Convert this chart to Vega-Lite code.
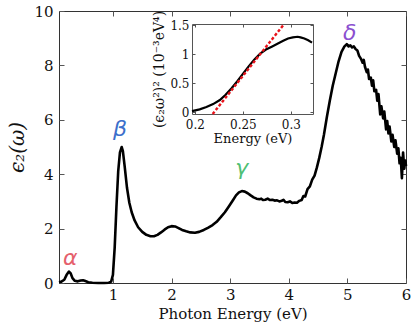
{
  "$schema": "https://vega.github.io/schema/vega-lite/v6.json",
  "width": 347,
  "height": 272,
  "autosize": {"type": "none"},
  "padding": {"left": 59, "top": 11, "right": 9, "bottom": 45},
  "background": "white",
  "config": {
    "view": {"stroke": "#333", "strokeWidth": 1},
    "axis": {
      "grid": false,
      "labelFont": "DejaVu Serif",
      "titleFont": "DejaVu Serif",
      "labelColor": "#111",
      "titleColor": "#111",
      "tickColor": "#555",
      "domainColor": "#555",
      "titleFontWeight": "normal",
      "labelFontWeight": "normal"
    }
  },
  "datasets": {
    "main": [
      {"E": 0.08, "v": 0.03}, {"E": 0.12, "v": 0.05}, {"E": 0.17, "v": 0.12}, {"E": 0.21, "v": 0.3},
      {"E": 0.25, "v": 0.42}, {"E": 0.28, "v": 0.35}, {"E": 0.31, "v": 0.18}, {"E": 0.35, "v": 0.08},
      {"E": 0.4, "v": 0.06}, {"E": 0.45, "v": 0.09}, {"E": 0.49, "v": 0.1}, {"E": 0.53, "v": 0.07},
      {"E": 0.58, "v": 0.03}, {"E": 0.65, "v": 0.01}, {"E": 0.75, "v": 0.0}, {"E": 0.85, "v": 0.0},
      {"E": 0.93, "v": 0.01}, {"E": 0.97, "v": 0.05}, {"E": 1.0, "v": 0.3}, {"E": 1.03, "v": 1.3},
      {"E": 1.06, "v": 2.8}, {"E": 1.09, "v": 4.1}, {"E": 1.12, "v": 4.8}, {"E": 1.15, "v": 5.0},
      {"E": 1.17, "v": 4.85}, {"E": 1.2, "v": 4.3}, {"E": 1.24, "v": 3.5}, {"E": 1.28, "v": 2.95},
      {"E": 1.32, "v": 2.6}, {"E": 1.37, "v": 2.3}, {"E": 1.43, "v": 2.05}, {"E": 1.5, "v": 1.88},
      {"E": 1.57, "v": 1.77}, {"E": 1.64, "v": 1.72}, {"E": 1.7, "v": 1.72}, {"E": 1.76, "v": 1.77},
      {"E": 1.82, "v": 1.86}, {"E": 1.88, "v": 1.96}, {"E": 1.94, "v": 2.05}, {"E": 2.0, "v": 2.09},
      {"E": 2.06, "v": 2.08}, {"E": 2.12, "v": 2.02}, {"E": 2.18, "v": 1.95}, {"E": 2.25, "v": 1.9},
      {"E": 2.32, "v": 1.86}, {"E": 2.4, "v": 1.85}, {"E": 2.47, "v": 1.88}, {"E": 2.55, "v": 1.95},
      {"E": 2.62, "v": 2.03}, {"E": 2.7, "v": 2.13}, {"E": 2.77, "v": 2.25}, {"E": 2.84, "v": 2.42},
      {"E": 2.91, "v": 2.6}, {"E": 2.98, "v": 2.82}, {"E": 3.05, "v": 3.05}, {"E": 3.1, "v": 3.22},
      {"E": 3.15, "v": 3.33}, {"E": 3.2, "v": 3.38}, {"E": 3.25, "v": 3.36}, {"E": 3.3, "v": 3.3},
      {"E": 3.35, "v": 3.22}, {"E": 3.4, "v": 3.15}, {"E": 3.45, "v": 3.1}, {"E": 3.5, "v": 3.08},
      {"E": 3.53, "v": 3.1}, {"E": 3.56, "v": 3.05}, {"E": 3.6, "v": 3.06}, {"E": 3.64, "v": 3.1},
      {"E": 3.68, "v": 3.05}, {"E": 3.72, "v": 3.06}, {"E": 3.76, "v": 3.03}, {"E": 3.8, "v": 3.04},
      {"E": 3.84, "v": 3.0}, {"E": 3.88, "v": 3.02}, {"E": 3.91, "v": 3.06}, {"E": 3.94, "v": 2.98},
      {"E": 3.98, "v": 2.97}, {"E": 4.02, "v": 3.0}, {"E": 4.06, "v": 2.94}, {"E": 4.1, "v": 2.96},
      {"E": 4.14, "v": 2.95}, {"E": 4.18, "v": 3.02}, {"E": 4.22, "v": 3.05}, {"E": 4.25, "v": 3.2},
      {"E": 4.28, "v": 3.18}, {"E": 4.32, "v": 3.45}, {"E": 4.36, "v": 3.55}, {"E": 4.4, "v": 3.8},
      {"E": 4.44, "v": 3.95}, {"E": 4.48, "v": 4.25}, {"E": 4.52, "v": 4.6}, {"E": 4.56, "v": 5.0},
      {"E": 4.6, "v": 5.45}, {"E": 4.65, "v": 6.1}, {"E": 4.7, "v": 6.7}, {"E": 4.75, "v": 7.25},
      {"E": 4.8, "v": 7.7}, {"E": 4.85, "v": 8.15}, {"E": 4.9, "v": 8.5}, {"E": 4.95, "v": 8.7},
      {"E": 4.99, "v": 8.78}, {"E": 5.02, "v": 8.7}, {"E": 5.05, "v": 8.74}, {"E": 5.08, "v": 8.66},
      {"E": 5.11, "v": 8.7}, {"E": 5.14, "v": 8.6}, {"E": 5.17, "v": 8.55}, {"E": 5.2, "v": 8.35},
      {"E": 5.23, "v": 8.25}, {"E": 5.26, "v": 8.1}, {"E": 5.28, "v": 8.2}, {"E": 5.3, "v": 7.95},
      {"E": 5.33, "v": 7.75}, {"E": 5.35, "v": 7.85}, {"E": 5.37, "v": 7.5}, {"E": 5.4, "v": 7.55},
      {"E": 5.42, "v": 7.25}, {"E": 5.44, "v": 7.45}, {"E": 5.46, "v": 7.05}, {"E": 5.49, "v": 7.1},
      {"E": 5.51, "v": 6.7}, {"E": 5.53, "v": 6.95}, {"E": 5.56, "v": 6.2}, {"E": 5.58, "v": 6.5},
      {"E": 5.61, "v": 6.05}, {"E": 5.63, "v": 6.3}, {"E": 5.66, "v": 5.65}, {"E": 5.68, "v": 5.95},
      {"E": 5.7, "v": 5.5}, {"E": 5.72, "v": 5.75}, {"E": 5.75, "v": 5.2}, {"E": 5.77, "v": 5.45},
      {"E": 5.8, "v": 5.0}, {"E": 5.82, "v": 5.25}, {"E": 5.85, "v": 4.75}, {"E": 5.87, "v": 4.95},
      {"E": 5.89, "v": 4.4}, {"E": 5.91, "v": 4.6}, {"E": 5.93, "v": 3.85}, {"E": 5.95, "v": 4.8},
      {"E": 5.97, "v": 4.2}, {"E": 5.99, "v": 4.5}, {"E": 6.0, "v": 4.3}
    ],
    "labels": [
      {"E": 0.27, "v": 0.66, "label": "α"},
      {"E": 1.12, "v": 5.4, "label": "β"},
      {"E": 3.2, "v": 3.97, "label": "γ"},
      {"E": 5.04, "v": 8.93, "label": "δ"}
    ],
    "inset": [
      {"E": 0.197, "v": 0.02}, {"E": 0.205, "v": 0.05}, {"E": 0.212, "v": 0.09}, {"E": 0.219, "v": 0.14},
      {"E": 0.226, "v": 0.21}, {"E": 0.232, "v": 0.3}, {"E": 0.238, "v": 0.41}, {"E": 0.244, "v": 0.53},
      {"E": 0.25, "v": 0.66}, {"E": 0.256, "v": 0.79}, {"E": 0.262, "v": 0.91}, {"E": 0.268, "v": 1.01},
      {"E": 0.274, "v": 1.08}, {"E": 0.28, "v": 1.13}, {"E": 0.286, "v": 1.18}, {"E": 0.292, "v": 1.23},
      {"E": 0.297, "v": 1.27}, {"E": 0.302, "v": 1.29}, {"E": 0.307, "v": 1.3}, {"E": 0.31, "v": 1.29},
      {"E": 0.314, "v": 1.27}, {"E": 0.318, "v": 1.24}, {"E": 0.322, "v": 1.2}
    ],
    "fit": [
      {"E": 0.2185, "v": -0.03},
      {"E": 0.293, "v": 1.52}
    ]
  },
  "layer": [
    {
      "layer": [
        {
          "data": {"name": "main"},
          "mark": {"type": "line", "color": "black", "strokeWidth": 2.6, "strokeJoin": "round"},
          "encoding": {
            "x": {
              "field": "E", "type": "quantitative",
              "scale": {"domain": [0.08, 6], "nice": false, "zero": false},
              "axis": {
                "orient": "bottom", "values": [1, 2, 3, 4, 5, 6], "format": "~r",
                "domain": false, "tickSize": -5, "labelPadding": 9, "labelFontSize": 15,
                "labelFlush": false,
                "title": "Photon Energy (eV)", "titleFontSize": 15, "titlePadding": 4
              }
            },
            "y": {
              "field": "v", "type": "quantitative",
              "scale": {"domain": [0, 10], "nice": false},
              "axis": {
                "orient": "left", "values": [0, 2, 4, 6, 8, 10], "format": "~r",
                "domain": false, "tickSize": -5, "labelPadding": 11, "labelFontSize": 15,
                "labelFlush": false,
                "title": "ϵ₂(ω)", "titleFontSize": 20, "titleFontStyle": "italic", "titlePadding": 6
              }
            }
          }
        },
        {
          "data": {"name": "labels"},
          "mark": {"type": "text", "font": "DejaVu Sans", "fontStyle": "italic", "fontSize": 22, "baseline": "alphabetic", "align": "center"},
          "encoding": {
            "x": {
              "field": "E", "type": "quantitative",
              "axis": {"orient": "top", "values": [1, 2, 3, 4, 5, 6], "labels": false, "domain": false, "tickSize": -5, "title": null}
            },
            "y": {
              "field": "v", "type": "quantitative",
              "axis": {"orient": "right", "values": [2, 4, 6, 8], "labels": false, "domain": false, "tickSize": -5, "title": null}
            },
            "text": {"field": "label"},
            "color": {
              "field": "label", "type": "nominal",
              "scale": {"domain": ["α", "β", "γ", "δ"], "range": ["#e5606c", "#3c6fcb", "#4fbf74", "#8b4fd0"]},
              "legend": null
            }
          }
        }
      ],
      "resolve": {"axis": {"x": "independent", "y": "independent"}}
    },
    {
      "layer": [
        {
          "data": {"name": "inset"},
          "mark": {"type": "line", "color": "black", "strokeWidth": 2.2},
          "encoding": {
            "x": {
              "field": "E", "type": "quantitative",
              "scale": {"domain": [0.197, 0.323], "nice": false, "zero": false, "range": [133, 254]},
              "axis": {
                "orient": "bottom", "offset": -169, "values": [0.2, 0.25, 0.3], "format": "~r",
                "tickSize": -3, "labelPadding": 8, "labelFontSize": 12, "labelFlush": false,
                "title": "Energy (eV)", "titleFontSize": 13, "titlePadding": 2
              }
            },
            "y": {
              "field": "v", "type": "quantitative",
              "scale": {"domain": [-0.03, 1.52], "nice": false, "zero": false, "range": [103, 13]},
              "axis": {
                "orient": "left", "offset": -133, "values": [0, 0.5, 1, 1.5], "format": "~r",
                "tickSize": -3, "labelPadding": 6, "labelFontSize": 12, "labelFlush": false,
                "title": "(ϵ₂ω²)² (10⁻³eV⁴)", "titleFontSize": 14, "titlePadding": 3
              }
            }
          }
        },
        {
          "data": {"name": "fit"},
          "mark": {"type": "line", "color": "#e8121a", "strokeWidth": 2.4, "strokeDash": [3, 2]},
          "encoding": {
            "x": {
              "field": "E", "type": "quantitative",
              "axis": {"orient": "top", "offset": -13, "values": [0.2, 0.25, 0.3], "labels": false, "tickSize": -3, "title": null}
            },
            "y": {
              "field": "v", "type": "quantitative",
              "axis": {"orient": "right", "offset": -93, "values": [0, 0.5, 1, 1.5], "labels": false, "tickSize": -3, "title": null}
            }
          }
        }
      ],
      "resolve": {"axis": {"x": "independent", "y": "independent"}}
    }
  ],
  "resolve": {"scale": {"x": "independent", "y": "independent", "color": "independent"}}
}
